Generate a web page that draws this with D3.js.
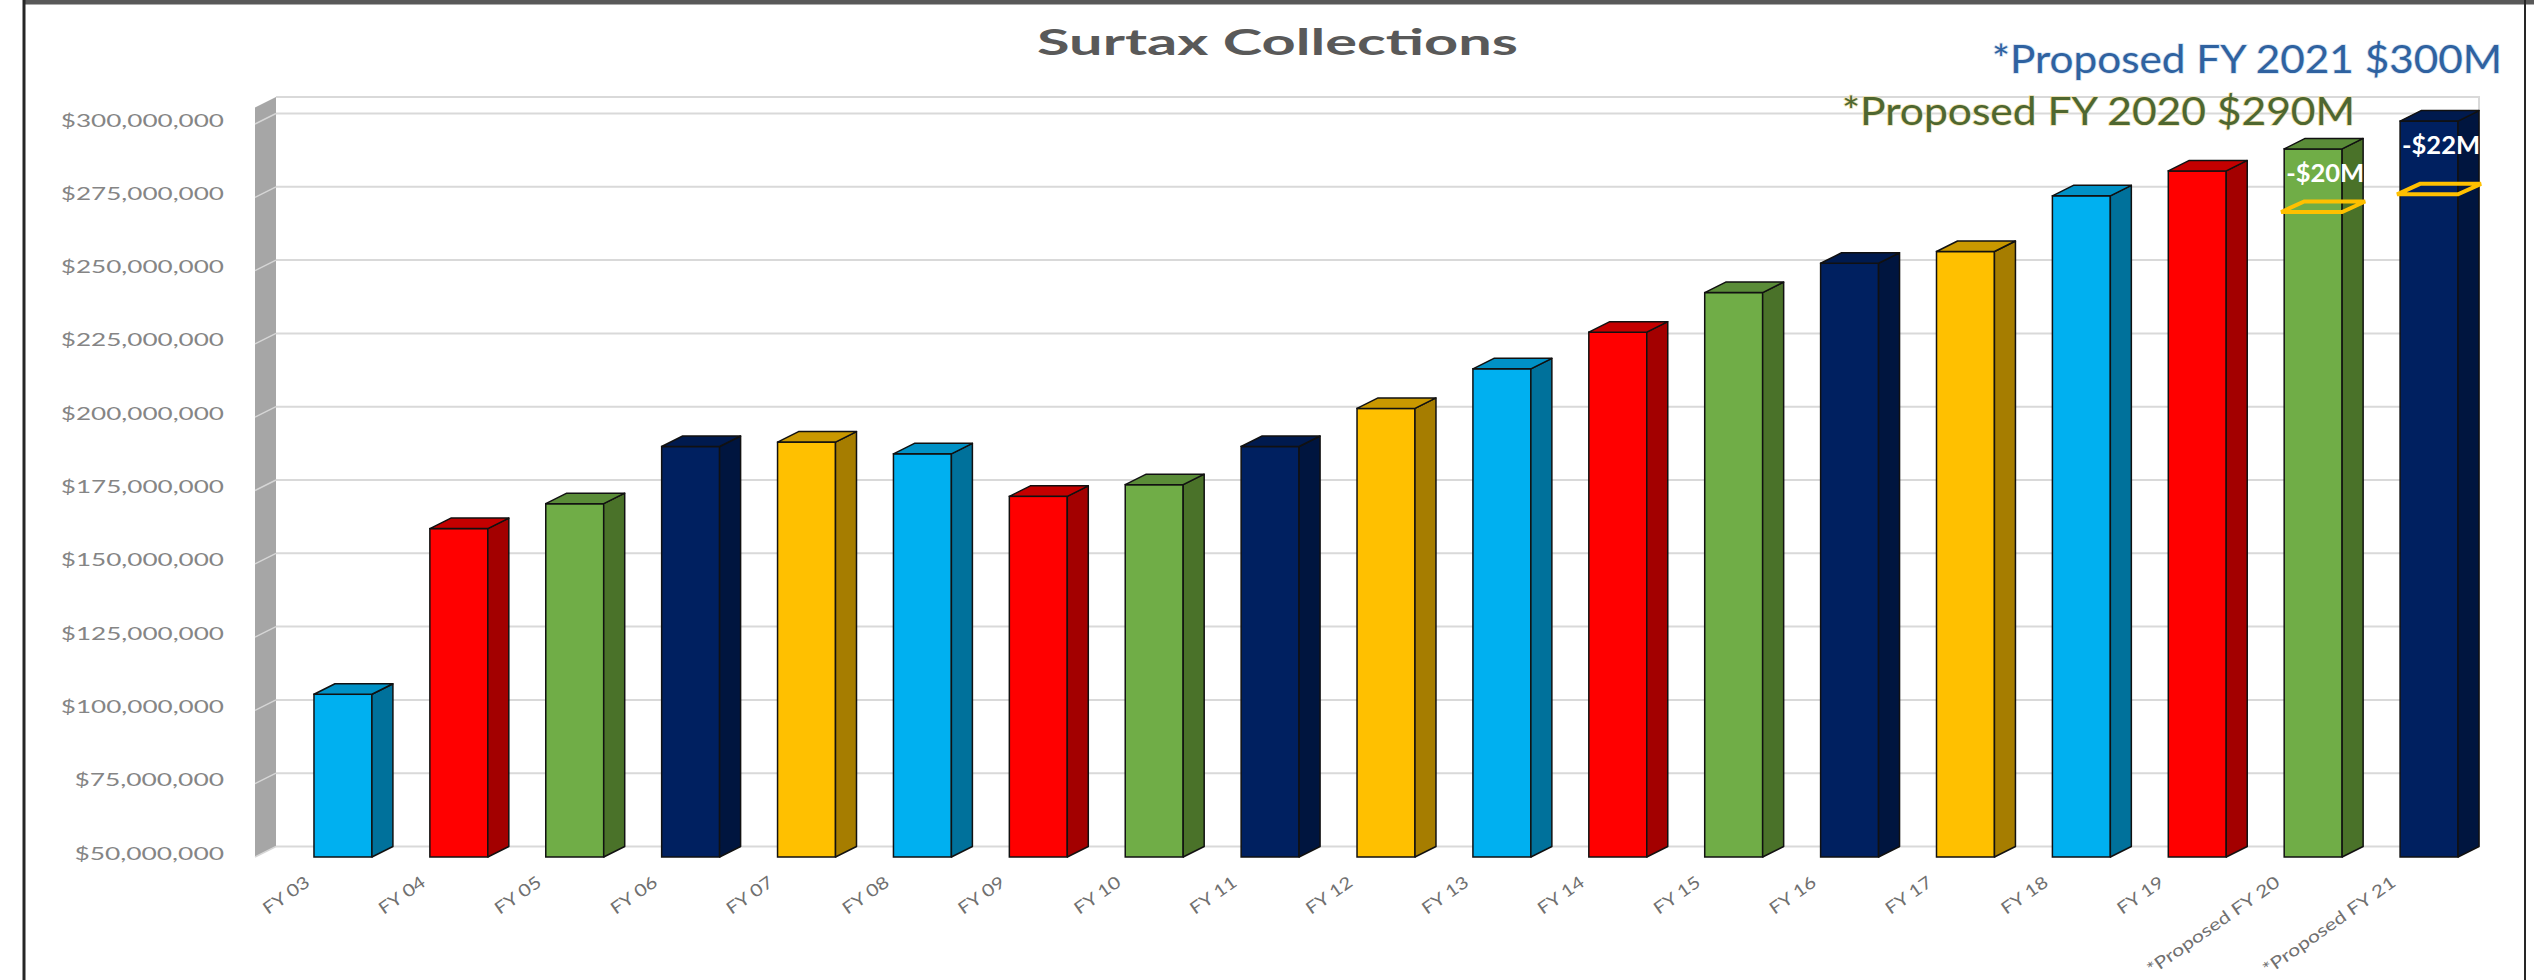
<!DOCTYPE html>
<html><head><meta charset="utf-8">
<script src="https://cdn.jsdelivr.net/npm/d3@7"></script>
<style>body{margin:0;background:#fff}svg{display:block}</style>
</head><body>
<svg id="chart" width="2534" height="980"></svg>
<script>
// ---------- data ----------
const categories = ["FY 03","FY 04","FY 05","FY 06","FY 07","FY 08","FY 09","FY 10","FY 11","FY 12",
  "FY 13","FY 14","FY 15","FY 16","FY 17","FY 18","FY 19","*Proposed FY 20","*Proposed FY 21"];
// surtax collections, $ millions
const values = [105.5, 162, 170.5, 190, 191.5, 187.5, 173, 177, 190, 203,
  216.5, 229, 242.5, 252.5, 256.5, 275.5, 284, 291.5, 301];
// reduced level after cut (proposed years only), $ millions
const reducedValues = [null,null,null,null,null,null,null,null,null,null,
  null,null,null,null,null,null,null, 270, 276];
const reductionLabels = ["","","","","","","","","","","","","","","","","","-$20M","-$22M"];
const yTicks = [50, 75, 100, 125, 150, 175, 200, 225, 250, 275, 300];
const titleText = "Surtax Collections";
const note2021 = "*Proposed FY 2021 $300M";
const note2020 = "*Proposed FY 2020 $290M";
const palette = [
  {front:"#00B0F0", side:"#00719B", top:"#0091C6"},
  {front:"#FF0000", side:"#A30000", top:"#C40000"},
  {front:"#70AD47", side:"#4A7229", top:"#5A8C38"},
  {front:"#002060", side:"#00153F", top:"#001A4E"},
  {front:"#FFC000", side:"#A67D00", top:"#C99800"}
];

// ---------- layout ----------
const svg = d3.select("#chart");
const DX = 21, DY = -10.5;
const y = d3.scaleLinear().domain([50, 300]).range([857, 124]);
const x = d3.scaleBand().domain(categories).range([285, 2487]).paddingInner(0.5).paddingOuter(0.25);
const wallFrontX = 255, wallBackX = wallFrontX + DX, wallRight = 2479;
const wallTopFront = y(300) - 16.5;
const fmt = v => "$" + d3.format(",")(v * 1e6);

// frame
svg.append("line").attr("x1", 24).attr("x2", 2534).attr("y1", 2).attr("y2", 2).attr("stroke", "#595959").attr("stroke-width", 5);
svg.append("line").attr("x1", 24).attr("x2", 24).attr("y1", 0).attr("y2", 980).attr("stroke", "#262626").attr("stroke-width", 3);
svg.append("line").attr("x1", 2525).attr("x2", 2525).attr("y1", 0).attr("y2", 980).attr("stroke", "#262626").attr("stroke-width", 2);

// back wall
const back = svg.append("g");
back.selectAll("line.grid").data(yTicks).join("line").attr("class", "grid")
  .attr("x1", wallBackX).attr("x2", wallRight)
  .attr("y1", d => y(d) + DY).attr("y2", d => y(d) + DY)
  .attr("stroke", "#d9d9d9").attr("stroke-width", 2);
back.append("path")
  .attr("d", `M${wallBackX},${wallTopFront + DY}H${wallRight}V${y(50) + DY}`)
  .attr("fill", "none").attr("stroke", "#d9d9d9").attr("stroke-width", 2);

// side wall
svg.append("polygon")
  .attr("points", [[wallFrontX, y(50)], [wallBackX, y(50) + DY], [wallBackX, wallTopFront + DY], [wallFrontX, wallTopFront]].map(p => p.join(",")).join(" "))
  .attr("fill", "#a6a6a6");
svg.selectAll("line.sgrid").data(yTicks).join("line").attr("class", "sgrid")
  .attr("x1", wallFrontX).attr("x2", wallBackX)
  .attr("y1", d => y(d)).attr("y2", d => y(d) + DY)
  .attr("stroke", "#d6d6d6").attr("stroke-width", 1.5);

// bars
const bars = svg.append("g").selectAll("g").data(categories).join("g");
const pts = arr => arr.map(p => p.join(",")).join(" ");
bars.each(function(c, i) {
  const g = d3.select(this);
  const col = palette[i % palette.length];
  const x0 = x(c), w = x.bandwidth(), yt = y(values[i]), yb = y(50);
  g.append("rect").attr("x", x0).attr("y", yt).attr("width", w).attr("height", yb - yt)
    .attr("fill", col.front).attr("stroke", "#111").attr("stroke-width", 1.5);
  g.append("polygon").attr("points", pts([[x0 + w, yb], [x0 + w + DX, yb + DY], [x0 + w + DX, yt + DY], [x0 + w, yt]]))
    .attr("fill", col.side).attr("stroke", "#111").attr("stroke-width", 1.5).attr("stroke-linejoin", "round");
  g.append("polygon").attr("points", pts([[x0, yt], [x0 + w, yt], [x0 + w + DX, yt + DY], [x0 + DX, yt + DY]]))
    .attr("fill", col.top).attr("stroke", "#111").attr("stroke-width", 1.5).attr("stroke-linejoin", "round");
  if (reducedValues[i] != null) {
    const yr = y(reducedValues[i]);
    g.append("polygon").attr("points", pts([[x0 - 3, yr], [x0 + w, yr], [x0 + w + DX + 2, yr + DY], [x0 + DX - 1, yr + DY]]))
      .attr("fill", "none").attr("stroke", "#FFC000").attr("stroke-width", 4).attr("stroke-linejoin", "miter");
    g.append("text").attr("x", x0 + w / 2 + 12).attr("y", yt + 33)
      .attr("text-anchor", "middle").attr("fill", "#fff")
      .attr("font-family", "Lato, 'Open Sans', sans-serif").attr("font-weight", 700).attr("font-size", 25)
      .attr("textLength", 78).attr("lengthAdjust", "spacingAndGlyphs")
      .text(reductionLabels[i]);
  }
});

// y axis labels
svg.append("g").selectAll("text").data(yTicks).join("text")
  .attr("x", 224).attr("y", d => y(d) - 2)
  .attr("text-anchor", "end").attr("dominant-baseline", "middle")
  .attr("fill", "#858585").attr("font-family", "Lato, 'Open Sans', sans-serif").attr("font-size", 18)
  .attr("textLength", d => fmt(d).length * 13.6).attr("lengthAdjust", "spacingAndGlyphs")
  .text(d => fmt(d));

// x axis labels
svg.append("g").selectAll("text").data(categories).join("text")
  .attr("transform", d => `translate(${x(d) + x.bandwidth() / 2 - 32},885) rotate(-35)`)
  .attr("text-anchor", "end").attr("fill", "#707070")
  .attr("font-family", "Lato, 'Open Sans', sans-serif").attr("font-size", 17)
  .attr("textLength", d => d.length * 10.5).attr("lengthAdjust", "spacingAndGlyphs")
  .text(d => d);

// title
svg.append("text").attr("x", 1037).attr("y", 55)
  .attr("fill", "#595959").attr("font-family", "Lato, sans-serif").attr("font-weight", 700).attr("font-size", 37)
  .attr("textLength", 481).attr("lengthAdjust", "spacingAndGlyphs")
  .text(titleText);

// notes
svg.append("text").attr("x", 1992).attr("y", 73)
  .attr("fill", "#2F62A0").attr("stroke", "#d5e3f2").attr("stroke-width", 1.5).attr("paint-order", "stroke")
  .attr("font-family", "Lato, 'Open Sans', sans-serif").attr("font-size", 38)
  .attr("textLength", 510).attr("lengthAdjust", "spacingAndGlyphs")
  .text(note2021);
svg.append("text").attr("x", 1842).attr("y", 125)
  .attr("fill", "#4E6730").attr("stroke", "#efe2b0").attr("stroke-width", 1.5).attr("paint-order", "stroke")
  .attr("font-family", "Lato, 'Open Sans', sans-serif").attr("font-size", 39)
  .attr("textLength", 513).attr("lengthAdjust", "spacingAndGlyphs")
  .text(note2020);
</script>
</body></html>
